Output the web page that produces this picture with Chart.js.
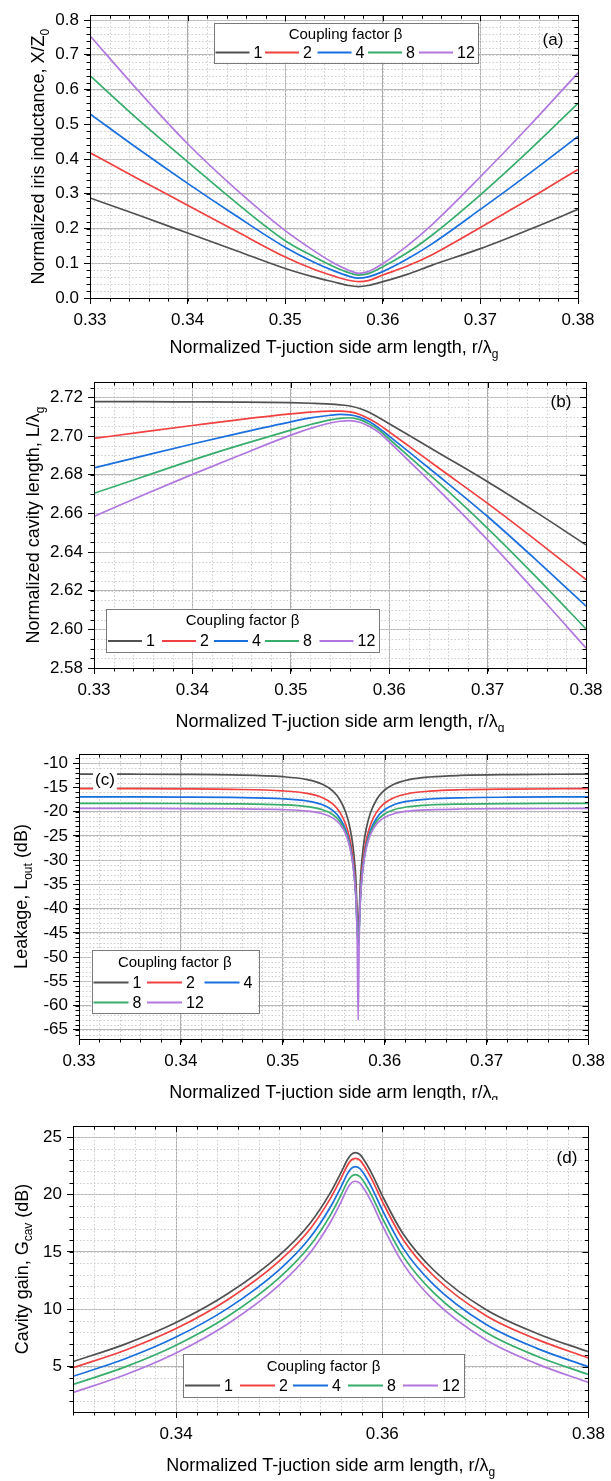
<!DOCTYPE html>
<html><head><meta charset="utf-8">
<script src="https://cdn.jsdelivr.net/npm/chart.js@4/dist/chart.umd.min.js"></script>
<style>
html,body{margin:0;padding:0;background:#fff;width:611px;height:1481px;overflow:hidden;}
canvas{position:absolute;left:0;}
</style></head><body>
<canvas id="ca" width="611" height="362" style="top:0px"></canvas>
<canvas id="cb" width="611" height="370" style="top:362px"></canvas>
<canvas id="cc" width="611" height="368" style="top:732px"></canvas>
<canvas id="cd" width="611" height="381" style="top:1100px"></canvas>
<script>
// ---------- shared ----------
const seriesNames = ['1', '2', '4', '8', '12'];
const seriesColors = ['#515151', '#F14040', '#1A6FDF', '#37AD6B', '#B177DE'];
const legendTitle = 'Coupling factor \u03B2';
const xTitleParts = [{t: 'Normalized T-juction side arm length, r/\u03BB'}, {t: 'g', sub: true}];

// ---------- panel (a): normalized iris inductance ----------
const aX = [0.33, 0.335, 0.34, 0.345, 0.35, 0.353, 0.355, 0.3565, 0.3575, 0.3585, 0.36, 0.3625, 0.365, 0.37, 0.375, 0.38];
const aB1  = [0.288, 0.238, 0.187, 0.136, 0.085, 0.060, 0.046, 0.036, 0.033, 0.036, 0.047, 0.068, 0.094, 0.142, 0.197, 0.255];
const aB2  = [0.418, 0.342, 0.267, 0.192, 0.118, 0.082, 0.063, 0.051, 0.047, 0.050, 0.066, 0.092, 0.124, 0.203, 0.285, 0.370];
const aB4  = [0.530, 0.428, 0.330, 0.236, 0.146, 0.102, 0.078, 0.063, 0.057, 0.061, 0.076, 0.112, 0.155, 0.255, 0.358, 0.465];
const aB8  = [0.640, 0.512, 0.392, 0.274, 0.165, 0.118, 0.090, 0.073, 0.066, 0.070, 0.090, 0.130, 0.180, 0.297, 0.425, 0.560];
const aB12 = [0.755, 0.595, 0.444, 0.312, 0.194, 0.135, 0.100, 0.080, 0.071, 0.076, 0.099, 0.150, 0.210, 0.349, 0.495, 0.648];
const aXTicks = [0.33, 0.34, 0.35, 0.36, 0.37, 0.38];
const aYTicks = [0.0, 0.1, 0.2, 0.3, 0.4, 0.5, 0.6, 0.7, 0.8];

// ---------- panel (b): normalized cavity length ----------
const bX = [0.33, 0.335, 0.34, 0.345, 0.35, 0.352, 0.354, 0.355, 0.356, 0.357, 0.358, 0.359, 0.36, 0.362, 0.365, 0.37, 0.375, 0.38];
const bB1  = [2.7178, 2.7178, 2.7177, 2.7176, 2.7173, 2.7170, 2.7166, 2.7162, 2.7156, 2.7143, 2.7122, 2.7094, 2.7064, 2.7004, 2.6914, 2.6764, 2.6604, 2.6437];
const bB2  = [2.6988, 2.7022, 2.7055, 2.7087, 2.7115, 2.7124, 2.7129, 2.7129, 2.7125, 2.7112, 2.7088, 2.7058, 2.7022, 2.6948, 2.6836, 2.6652, 2.6458, 2.6258];
const bB4  = [2.6836, 2.6898, 2.6959, 2.7018, 2.7074, 2.7094, 2.7108, 2.7112, 2.7110, 2.7098, 2.7074, 2.7040, 2.7000, 2.6918, 2.6795, 2.6584, 2.6356, 2.6120];
const bB8  = [2.6704, 2.6790, 2.6876, 2.6956, 2.7031, 2.7060, 2.7084, 2.7092, 2.7095, 2.7085, 2.7062, 2.7030, 2.6985, 2.6895, 2.6760, 2.6523, 2.6268, 2.6002];
const bB12 = [2.6584, 2.6695, 2.6802, 2.6905, 2.7005, 2.7040, 2.7068, 2.7077, 2.7080, 2.7072, 2.7050, 2.7017, 2.6970, 2.6872, 2.6722, 2.6463, 2.6188, 2.5903];
const bXTicks = [0.33, 0.34, 0.35, 0.36, 0.37, 0.38];
const bYTicks = [2.58, 2.60, 2.62, 2.64, 2.66, 2.68, 2.70, 2.72];

// ---------- panel (c): leakage ----------
const cX = [0.33, 0.335, 0.34, 0.345, 0.35, 0.3524, 0.3539, 0.3549, 0.3556, 0.3562, 0.3566, 0.3569, 0.3571, 0.3572, 0.3573, 0.3574, 0.3575, 0.3576, 0.3577, 0.3579, 0.3582, 0.3586, 0.3592, 0.3599, 0.3609, 0.3624, 0.3644, 0.3674, 0.3724, 0.3774, 0.38];
const cB1  = [-12.25, -12.27, -12.31, -12.42, -12.78, -13.39, -14.35, -15.73, -17.54, -20.29, -23.42, -27.30, -31.65, -35.14, -41.15, -43.0, -41.15, -35.14, -31.65, -27.30, -23.42, -20.29, -17.54, -15.73, -14.35, -13.39, -12.85, -12.53, -12.35, -12.28, -12.27];
const cB2  = [-15.24, -15.26, -15.30, -15.39, -15.71, -16.24, -17.11, -18.38, -20.09, -22.75, -25.83, -29.68, -34.01, -37.50, -42.5, -44.5, -42.5, -37.50, -34.01, -29.68, -25.83, -22.75, -20.09, -18.38, -17.11, -16.24, -15.76, -15.48, -15.33, -15.27, -15.26];
const cB4  = [-16.93, -16.95, -16.98, -17.06, -17.33, -17.80, -18.57, -19.74, -21.34, -23.89, -26.90, -30.71, -35.03, -38.51, -44.0, -47.5, -44.0, -38.51, -35.03, -30.71, -26.90, -23.89, -21.34, -19.74, -18.57, -17.80, -17.38, -17.14, -17.01, -16.96, -16.95];
const cB8  = [-18.28, -18.29, -18.31, -18.37, -18.59, -18.96, -19.59, -20.57, -21.98, -24.34, -27.22, -30.95, -35.24, -38.71, -44.0, -46.5, -44.0, -38.71, -35.24, -30.95, -27.22, -24.34, -21.98, -20.57, -19.59, -18.96, -18.62, -18.44, -18.33, -18.30, -18.29];
const cB12 = [-19.32, -19.33, -19.35, -19.40, -19.58, -19.88, -20.42, -21.28, -22.55, -24.75, -27.52, -31.19, -35.44, -38.90, -46.0, -63.0, -46.0, -38.90, -35.44, -31.19, -27.52, -24.75, -22.55, -21.28, -20.42, -19.88, -19.61, -19.45, -19.37, -19.34, -19.33];
const cXTicks = [0.33, 0.34, 0.35, 0.36, 0.37, 0.38];
const cYTicks = [-65, -60, -55, -50, -45, -40, -35, -30, -25, -20, -15, -10];

// ---------- panel (d): cavity gain ----------
const dX = [0.33, 0.335, 0.34, 0.345, 0.35, 0.353, 0.355, 0.356, 0.3566, 0.357, 0.3574, 0.3578, 0.3582, 0.359, 0.36, 0.362, 0.365, 0.37, 0.375, 0.38];
const dB1  = [5.45, 6.95, 8.85, 11.35, 14.70, 17.50, 20.20, 21.90, 23.00, 23.50, 23.65, 23.50, 23.05, 21.80, 19.90, 16.60, 13.40, 10.00, 7.90, 6.30];
const dB2  = [4.92, 6.42, 8.33, 10.84, 14.20, 17.00, 19.70, 21.40, 22.50, 23.00, 23.15, 23.00, 22.55, 21.30, 19.40, 16.10, 12.90, 9.48, 7.38, 5.77];
const dB4  = [4.17, 5.67, 7.58, 10.08, 13.44, 16.25, 18.95, 20.66, 21.77, 22.27, 22.42, 22.27, 21.82, 20.56, 18.65, 15.35, 12.13, 8.72, 6.60, 5.00];
const dB8  = [3.46, 4.97, 6.88, 9.38, 12.74, 15.55, 18.25, 19.96, 21.07, 21.57, 21.72, 21.57, 21.12, 19.86, 17.95, 14.65, 11.43, 8.02, 5.92, 4.33];
const dB12 = [2.75, 4.28, 6.20, 8.72, 12.10, 14.92, 17.62, 19.35, 20.48, 21.00, 21.15, 21.00, 20.54, 19.26, 17.32, 14.00, 10.78, 7.37, 5.25, 3.63];
const dXTicks = [0.34, 0.36, 0.38];
const dYTicks = [5, 10, 15, 20, 25];

// ---------- drawing ----------
const FONT = "'Liberation Sans', Arial, Helvetica, sans-serif";
Chart.defaults.font.family = FONT;
Chart.defaults.color = '#000';

function drawRich(ctx, parts, cx, cy, rot, size) {
  ctx.save();
  ctx.translate(cx, cy);
  ctx.rotate(rot);
  const mainF = size + 'px ' + FONT;
  const subF = Math.round(size * 0.66) + 'px ' + FONT;
  let total = 0;
  for (const p of parts) { ctx.font = p.sub ? subF : mainF; total += ctx.measureText(p.t).width; }
  let x = -total / 2;
  const base = size * 0.36;
  ctx.textAlign = 'left';
  ctx.textBaseline = 'alphabetic';
  ctx.fillStyle = '#000';
  for (const p of parts) {
    ctx.font = p.sub ? subF : mainF;
    ctx.fillText(p.t, x, p.sub ? base + size * 0.25 : base);
    x += ctx.measureText(p.t).width;
  }
  ctx.restore();
}

function line(ctx, x1, y1, x2, y2) { ctx.beginPath(); ctx.moveTo(x1, y1); ctx.lineTo(x2, y2); ctx.stroke(); }

function decor(cfg) {
  return {
    id: 'decor',
    beforeDatasetsDraw(chart) {
      const ctx = chart.ctx, a = chart.chartArea, xs = chart.scales.x, ys = chart.scales.y;
      ctx.save();
      ctx.strokeStyle = '#cdcdcd';
      ctx.lineWidth = 1;
      ctx.setLineDash([1.5, 2]);
      const nx = Math.round((cfg.xMax - cfg.xMin) / cfg.xMinor);
      for (let k = 1; k < nx; k++) {
        const v = cfg.xMin + k * cfg.xMinor;
        const px = Math.round(xs.getPixelForValue(v)) + 0.5;
        line(ctx, px, a.top, px, a.bottom);
      }
      const y0 = Math.ceil(cfg.yMin / cfg.yMinor - 1e-9);
      const y1 = Math.floor(cfg.yMax / cfg.yMinor + 1e-9);
      for (let k = y0; k <= y1; k++) {
        const py = Math.round(ys.getPixelForValue(k * cfg.yMinor)) + 0.5;
        if (py <= a.top + 1 || py >= a.bottom - 1) continue;
        line(ctx, a.left, py, a.right, py);
      }
      ctx.restore();
    },
    afterDatasetsDraw(chart) {
      const ctx = chart.ctx, a = chart.chartArea, xs = chart.scales.x, ys = chart.scales.y;
      ctx.save();
      ctx.strokeStyle = '#000';
      ctx.lineWidth = 1;
      ctx.strokeRect(Math.round(a.left) + 0.5, Math.round(a.top) + 0.5, Math.round(a.right - a.left), Math.round(a.bottom - a.top));
      const nx = Math.round((cfg.xMax - cfg.xMin) / cfg.xMinor);
      for (let k = 0; k <= nx; k++) {
        const v = cfg.xMin + k * cfg.xMinor;
        const px = Math.round(xs.getPixelForValue(v)) + 0.5;
        line(ctx, px, a.bottom, px, a.bottom + 3.5);
        line(ctx, px, a.top, px, a.top + 3.5);
      }
      const y0 = Math.ceil(cfg.yMin / cfg.yMinor - 1e-9);
      const y1 = Math.floor(cfg.yMax / cfg.yMinor + 1e-9);
      for (let k = y0; k <= y1; k++) {
        const py = Math.round(ys.getPixelForValue(k * cfg.yMinor)) + 0.5;
        line(ctx, a.left - 3.5, py, a.left, py);
        line(ctx, a.right - 3.5, py, a.right, py);
      }
      for (const v of cfg.xTicks) {
        const px = Math.round(xs.getPixelForValue(v)) + 0.5;
        line(ctx, px, a.top, px, a.top + 6);
      }
      for (const v of cfg.yTicks) {
        const py = Math.round(ys.getPixelForValue(v)) + 0.5;
        line(ctx, a.right - 6, py, a.right, py);
      }
      ctx.restore();

      ctx.save();
      ctx.font = '17px ' + FONT;
      ctx.textAlign = 'center';
      ctx.textBaseline = 'middle';
      const tw = ctx.measureText(cfg.tag.text).width;
      if (cfg.tag.bg) {
        ctx.fillStyle = '#fff';
        ctx.fillRect(cfg.tag.x - tw / 2 - 2, cfg.tag.y - 11, tw + 4, 22);
      }
      ctx.fillStyle = '#000';
      ctx.fillText(cfg.tag.text, cfg.tag.x, cfg.tag.y);
      ctx.restore();

      const L = cfg.legend;
      ctx.save();
      ctx.fillStyle = '#fff';
      ctx.fillRect(L.x0, L.y0, L.x1 - L.x0, L.y1 - L.y0);
      ctx.strokeStyle = '#7a7a7a';
      ctx.lineWidth = 1;
      ctx.strokeRect(Math.round(L.x0) + 0.5, Math.round(L.y0) + 0.5, Math.round(L.x1 - L.x0), Math.round(L.y1 - L.y0));
      ctx.font = '15px ' + FONT;
      ctx.fillStyle = '#000';
      ctx.textAlign = 'center';
      ctx.textBaseline = 'middle';
      ctx.fillText(legendTitle, (L.x0 + L.x1) / 2, L.titleY);
      ctx.textAlign = 'left';
      ctx.font = '16px ' + FONT;
      for (const e of L.entries) {
        ctx.strokeStyle = seriesColors[e.s];
        ctx.lineWidth = 2;
        line(ctx, e.x, e.y, e.x + L.len, e.y);
        ctx.fillStyle = '#000';
        ctx.fillText(seriesNames[e.s], e.x + L.len + 4, e.y + 1);
      }
      ctx.restore();
    },
    afterDraw(chart) {
      const ctx = chart.ctx, a = chart.chartArea;
      drawRich(ctx, xTitleParts, (a.left + a.right) / 2, cfg.xTitleY, 0, 18);
      drawRich(ctx, cfg.yTitle, cfg.yTitleX, (a.top + a.bottom) / 2, -Math.PI / 2, 18);
    }
  };
}

function makePanel(id, cfg) {
  const canvas = document.getElementById(id);
  const H = canvas.height, W = canvas.width;
  const datasets = cfg.ys.map((ys, i) => ({
    label: seriesNames[i],
    data: cfg.x.map((x, j) => ({x: x, y: ys[j]})),
    borderColor: seriesColors[i],
    backgroundColor: seriesColors[i],
    borderWidth: 1.7,
    pointRadius: 0,
    cubicInterpolationMode: 'monotone',
    fill: false
  })).reverse();
  new Chart(canvas, {
    type: 'line',
    data: {datasets: datasets},
    options: {
      responsive: false,
      animation: false,
      devicePixelRatio: 1,
      events: [],
      layout: {padding: {left: 0, right: W - cfg.area.right, top: cfg.area.top, bottom: 0}},
      plugins: {legend: {display: false}, tooltip: {enabled: false}},
      scales: {
        x: {
          type: 'linear', min: cfg.xMin, max: cfg.xMax,
          afterBuildTicks: s => { s.ticks = cfg.xTicks.map(v => ({value: v})); },
          afterFit: s => { s.height = H - cfg.area.bottom; },
          ticks: {font: {size: 17}, color: '#000', padding: 6, maxRotation: 0, autoSkip: false,
                  callback: v => Number(v).toFixed(cfg.xDec)},
          grid: {color: '#ababab', lineWidth: 1, tickLength: 6, tickColor: '#000', tickWidth: 1},
          border: {display: false}
        },
        y: {
          type: 'linear', min: cfg.yMin, max: cfg.yMax,
          afterBuildTicks: s => { s.ticks = cfg.yTicks.map(v => ({value: v})); },
          afterFit: s => { s.width = cfg.area.left; },
          ticks: {font: {size: 17}, color: '#000', padding: 5, autoSkip: false,
                  callback: v => Number(v).toFixed(cfg.yDec)},
          grid: {color: '#b8b8b8', lineWidth: 1, tickLength: 6, tickColor: '#000', tickWidth: 1},
          border: {display: false}
        }
      }
    },
    plugins: [decor(cfg)]
  });
}

makePanel('ca', {
  x: aX, ys: [aB1, aB2, aB4, aB8, aB12], xTicks: aXTicks, yTicks: aYTicks,
  xMin: 0.33, xMax: 0.38, yMin: 0, yMax: 0.814, xMinor: 0.002, yMinor: 0.02, xDec: 2, yDec: 1,
  area: {left: 90, right: 578, top: 11, bottom: 298},
  xTitleY: 347, yTitleX: 38,
  yTitle: [{t: 'Normalized iris inductance, X/Z'}, {t: '0', sub: true}],
  tag: {text: '(a)', x: 553, y: 40},
  legend: {x0: 213.5, y0: 22.5, x1: 477.5, y1: 62.5, titleY: 34.5, len: 34,
    entries: [{s: 0, x: 215.5, y: 52.5}, {s: 1, x: 265, y: 52.5}, {s: 2, x: 317.5, y: 52.5}, {s: 3, x: 368, y: 52.5}, {s: 4, x: 419, y: 52.5}]}
});

makePanel('cb', {
  x: bX, ys: [bB1, bB2, bB4, bB8, bB12], xTicks: bXTicks, yTicks: bYTicks,
  xMin: 0.33, xMax: 0.38, yMin: 2.58, yMax: 2.728, xMinor: 0.002, yMinor: 0.005, xDec: 2, yDec: 2,
  area: {left: 94, right: 586, top: 20, bottom: 306},
  xTitleY: 359, yTitleX: 33,
  yTitle: [{t: 'Normalized cavity length, L/\u03BB'}, {t: 'g', sub: true}],
  tag: {text: '(b)', x: 561, y: 40},
  legend: {x0: 106, y0: 246.5, x1: 379, y1: 289.5, titleY: 259, len: 34,
    entries: [{s: 0, x: 108, y: 279}, {s: 1, x: 162, y: 279}, {s: 2, x: 214, y: 279}, {s: 3, x: 265, y: 279}, {s: 4, x: 319.5, y: 279}]}
});

makePanel('cc', {
  x: cX, ys: [cB1, cB2, cB4, cB8, cB12], xTicks: cXTicks, yTicks: cYTicks,
  xMin: 0.33, xMax: 0.38, yMin: -66.9, yMax: -8.1, xMinor: 0.002, yMinor: 1, xDec: 2, yDec: 0,
  area: {left: 79, right: 595, top: 22, bottom: 307},
  xTitleY: 360, yTitleX: 21,
  yTitle: [{t: 'Leakage, L'}, {t: 'out', sub: true}, {t: ' (dB)'}],
  tag: {text: '(c)', x: 105, y: 48, bg: true},
  legend: {x0: 91.5, y0: 218, x1: 258, y1: 281, titleY: 231, len: 35,
    entries: [{s: 0, x: 93.5, y: 250.5}, {s: 1, x: 147, y: 250.5}, {s: 2, x: 204.5, y: 250.5},
              {s: 3, x: 93.5, y: 270.5}, {s: 4, x: 147, y: 270.5}]}
});

makePanel('cd', {
  x: dX, ys: [dB1, dB2, dB4, dB8, dB12], xTicks: dXTicks, yTicks: dYTicks,
  xMin: 0.33, xMax: 0.38, yMin: 1.06, yMax: 25.96, xMinor: 0.002, yMinor: 1, xDec: 2, yDec: 0,
  area: {left: 73, right: 595, top: 26, bottom: 312},
  xTitleY: 365, yTitleX: 21.5,
  yTitle: [{t: 'Cavity gain, G'}, {t: 'cav', sub: true}, {t: ' (dB)'}],
  tag: {text: '(d)', x: 567, y: 58},
  legend: {x0: 183, y0: 254, x1: 464, y1: 296.5, titleY: 266.5, len: 35,
    entries: [{s: 0, x: 185, y: 285.5}, {s: 1, x: 240, y: 285.5}, {s: 2, x: 293, y: 285.5}, {s: 3, x: 348, y: 285.5}, {s: 4, x: 403, y: 285.5}]}
});
</script>
</body></html>
